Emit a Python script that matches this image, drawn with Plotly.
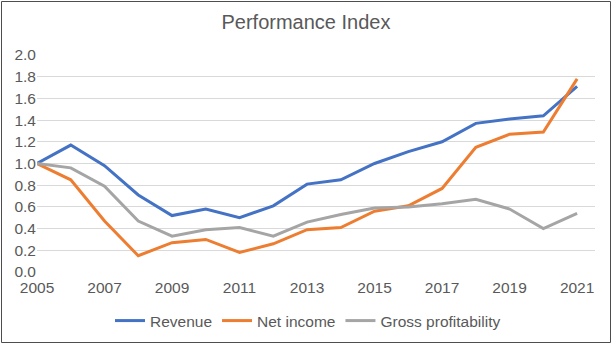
import plotly.graph_objects as go

# Performance index by year (2005 = 1.0)
years = list(range(2005, 2022))
revenue = [1.00, 1.17, 0.98, 0.71, 0.52, 0.58, 0.50, 0.61, 0.81, 0.85,
           1.00, 1.11, 1.20, 1.37, 1.41, 1.44, 1.71]
net_income = [1.00, 0.85, 0.47, 0.15, 0.27, 0.30, 0.18, 0.26, 0.39, 0.41,
              0.56, 0.61, 0.77, 1.15, 1.27, 1.29, 1.78]
gross_profitability = [1.00, 0.96, 0.79, 0.47, 0.33, 0.39, 0.41, 0.33, 0.46, 0.53,
                       0.59, 0.60, 0.63, 0.67, 0.58, 0.40, 0.54]

series_names = ["Revenue", "Net income", "Gross profitability"]
series_values = [revenue, net_income, gross_profitability]
series_colors = ["#4472C4", "#ED7D31", "#A5A5A5"]

x_ticks = list(range(2005, 2022, 2))
y_ticks = [round(0.2 * i, 1) for i in range(11)]

FONT = "Liberation Sans, Arial, sans-serif"
TEXT = "#595959"
TICK_SIZE = 15.5

W, H = 614, 346
ML, MR, MT, MB = 37, 19, 55, 74
PW, PH = W - ML - MR, H - MT - MB

fig = go.Figure()
for name, vals, col in zip(series_names, series_values, series_colors):
    fig.add_trace(go.Scatter(
        x=years, y=vals, name=name, mode="lines",
        line=dict(color=col, width=3),
    ))


def px_x(px):
    return (px - ML) / PW


def px_y(py):
    return (H - MB - py) / PH


fig.update_layout(
    width=W, height=H,
    margin=dict(l=ML, r=MR, t=MT, b=MB, autoexpand=False),
    paper_bgcolor="white", plot_bgcolor="white",
    font=dict(family=FONT, color=TEXT, size=TICK_SIZE),
    title=dict(text="Performance Index", xref="container", x=306 / W,
               xanchor="center", yref="container", y=1 - 22 / H,
               yanchor="middle",
               font=dict(family=FONT, size=20, color=TEXT)),
    xaxis=dict(range=[2005, 2021.53], tickvals=x_ticks, showgrid=False,
               zeroline=False, showline=False, ticks="",
               ticklabelstandoff=4,
               tickfont=dict(size=TICK_SIZE, color=TEXT)),
    yaxis=dict(range=[0, 2.0], tickvals=y_ticks, tickformat=".1f",
               showgrid=True, gridcolor="#D9D9D9", gridwidth=1,
               zeroline=False, showline=False, ticks="",
               ticklabelstandoff=0,
               tickfont=dict(size=TICK_SIZE, color=TEXT)),
    legend=dict(orientation="h", x=px_x(308), xanchor="center",
                y=px_y(321), yanchor="middle",
                font=dict(size=TICK_SIZE, color=TEXT), bgcolor="rgba(0,0,0,0)"),
    showlegend=True,
    shapes=[dict(type="rect", xref="paper", yref="paper",
                 x0=px_x(1.5), x1=px_x(610.5), y0=px_y(342.5), y1=px_y(1.5),
                 line=dict(color="#4d4d4d", width=1), layer="below")],
)

fig.write_html("out.html")
